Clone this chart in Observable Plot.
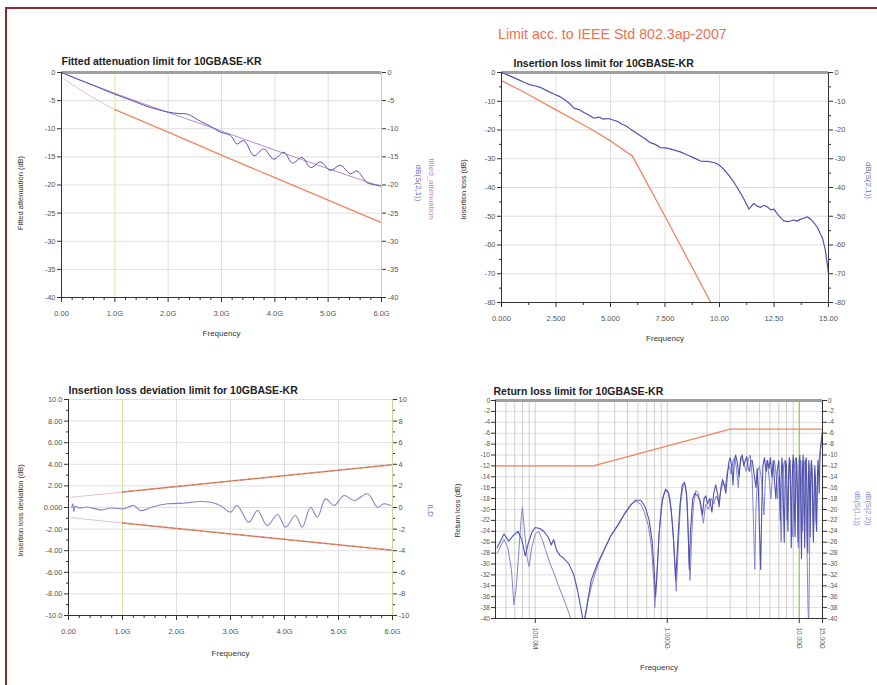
<!DOCTYPE html>
<html><head><meta charset="utf-8">
<script src="https://cdn.jsdelivr.net/npm/d3@7"></script>
<script src="https://cdn.jsdelivr.net/npm/@observablehq/plot@0.6"></script>
<style>
body{margin:0;background:#fff;font-family:"Liberation Sans",Arial,sans-serif}
#page{position:relative;width:877px;height:685px;overflow:hidden;background:#fff}
#frame{position:absolute;left:5px;top:7px;width:900px;height:700px;border-left:2px solid #8a2a2a;border-top:2px solid #8a2a2a}
#hdr{position:absolute;left:498px;top:26px;font-size:14.2px;color:#f0704f;white-space:nowrap}
.panel{position:absolute}
</style></head>
<body>
<div id="page">
  <div id="frame"></div>
  <div id="hdr">Limit acc. to IEEE Std 802.3ap-2007</div>
  <div class="panel" id="p1" style="left:0px;top:40px;width:440px;height:320px"></div>
  <div class="panel" id="p2" style="left:440px;top:40px;width:437px;height:320px"></div>
  <div class="panel" id="p3" style="left:0px;top:370px;width:440px;height:315px"></div>
  <div class="panel" id="p4" style="left:440px;top:370px;width:437px;height:315px"></div>
</div>
<script>
// ---------- Panel 1: Fitted attenuation ----------
const p1Title = "Fitted attenuation limit for 10GBASE-KR";
const p1XTicks = [0, 1, 2, 3, 4, 5, 6];
const p1XLabels = ["0.00", "1.0G", "2.0G", "3.0G", "4.0G", "5.0G", "6.0G"];
const p1YTicks = [0, -5, -10, -15, -20, -25, -30, -35, -40];
const p1YLabels = ["0", "-5", "-10", "-15", "-20", "-25", "-30", "-35", "-40"];
const p1LimitLowF = [0.05, 0.5, 1.0];
const p1LimitLowV = [-1.2, -4.0, -6.6];
const p1LimitF = [1.0, 2.0, 3.0, 4.0, 5.0, 6.0];
const p1LimitV = [-6.6, -10.6, -14.7, -18.7, -22.7, -26.7];
const p1MeasF = [0, 0.3, 0.6, 0.98, 1.3, 1.6, 1.98, 2.2, 2.36, 2.61, 2.8, 2.98, 3.17, 3.29, 3.42, 3.61, 3.79, 3.98, 4.17, 4.33, 4.51, 4.67, 4.86, 5.04, 5.23, 5.42, 5.54, 5.73, 5.85, 5.98];
const p1MeasV = [0, -1.2, -2.3, -3.8, -4.9, -6.0, -7.0, -7.3, -7.4, -8.7, -9.6, -10.6, -11.2, -12.7, -12.1, -14.8, -13.6, -15.4, -14.2, -16.1, -15.1, -16.9, -15.9, -17.4, -16.5, -18.0, -17.5, -19.6, -19.9, -20.1];
const p1FitF = [0, 1, 2, 3, 4, 5, 6];
const p1FitV = [0, -3.7, -7.1, -10.4, -13.8, -17.1, -20.3];

// ---------- Panel 2: Insertion loss ----------
const p2Title = "Insertion loss limit for 10GBASE-KR";
const p2XTicks = [0, 2.5, 5, 7.5, 10, 12.5, 15];
const p2XLabels = ["0.000", "2.500", "5.000", "7.500", "10.00", "12.50", "15.00"];
const p2YTicks = [0, -10, -20, -30, -40, -50, -60, -70, -80];
const p2YLabels = ["0", "-10", "-20", "-30", "-40", "-50", "-60", "-70", "-80"];
const p2LimitF = [0.05, 1, 2.5, 4, 5, 6, 7.5, 9.6];
const p2LimitV = [-3.0, -6.7, -13.0, -19.2, -23.8, -29.0, -50.0, -80.0];
const p2MeasF = [0, 0.35, 0.72, 1.05, 1.33, 1.55, 1.79, 2.1, 2.4, 2.65, 2.86, 3.1, 3.32, 3.55, 3.78, 4.0, 4.24, 4.45, 4.69, 4.9, 5.15, 5.35, 5.53, 5.72, 5.92, 6.15, 6.37, 6.6, 6.83, 7.05, 7.29, 7.6, 7.9, 8.2, 8.52, 8.8, 9.13, 9.45, 9.74, 9.95, 10.12, 10.3, 10.5, 10.65, 10.81, 10.95, 11.12, 11.25, 11.35, 11.45, 11.58, 11.7, 11.88, 12.05, 12.19, 12.35, 12.5, 12.65, 12.8, 12.95, 13.15, 13.41, 13.55, 13.72, 13.9, 14.02, 14.18, 14.33, 14.5, 14.63, 14.72, 14.79, 14.85, 14.91, 14.96, 15.0];
const p2MeasV = [0, -1.1, -2.3, -3.5, -4.3, -4.7, -5.2, -6.4, -7.5, -8.3, -9.3, -10.6, -12.4, -12.9, -13.9, -14.8, -15.9, -15.5, -16.2, -16.0, -16.6, -17.1, -18.0, -18.6, -19.7, -20.9, -22.0, -23.1, -24.4, -25.0, -26.1, -26.3, -26.9, -27.6, -28.7, -29.6, -30.8, -30.9, -31.3, -32.0, -33.1, -34.6, -36.5, -38.0, -40.0, -41.8, -44.0, -46.0, -47.5, -46.6, -45.5, -46.4, -46.9, -46.2, -46.7, -47.8, -47.5, -49.2, -50.5, -51.6, -51.9, -51.3, -51.7, -51.0, -50.6, -50.2, -51.0, -52.2, -54.0, -56.2, -57.5, -59.7, -61.5, -64.9, -67.5, -70.0];

// ---------- Panel 3: Insertion loss deviation ----------
const p3Title = "Insertion loss deviation limit for 10GBASE-KR";
const p3XTicks = [0, 1, 2, 3, 4, 5, 6];
const p3XLabels = ["0.00", "1.0G", "2.0G", "3.0G", "4.0G", "5.0G", "6.0G"];
const p3YTicks = [10, 8, 6, 4, 2, 0, -2, -4, -6, -8, -10];
const p3YLabelsL = ["10.0", "8.00", "6.00", "4.00", "2.00", "0.000", "-2.00", "-4.00", "-6.00", "-8.00", "-10.0"];
const p3YLabelsR = ["10", "8", "6", "4", "2", "0", "-2", "-4", "-6", "-8", "-10"];
const p3UpLowF = [0.05, 1.0];
const p3UpLowV = [0.95, 1.43];
const p3UpF = [1.0, 6.0];
const p3UpV = [1.43, 3.96];
const p3DnLowF = [0.05, 1.0];
const p3DnLowV = [-0.95, -1.43];
const p3DnF = [1.0, 6.0];
const p3DnV = [-1.43, -3.96];
const p3MeasF = [0.06, 0.08, 0.1, 0.12, 0.2, 0.35, 0.59, 0.8, 1.02, 1.21, 1.33, 1.58, 1.83, 2.13, 2.44, 2.63, 2.81, 3.0, 3.12, 3.34, 3.5, 3.68, 3.87, 4.02, 4.2, 4.33, 4.48, 4.61, 4.76, 4.92, 5.1, 5.29, 5.54, 5.72, 5.84, 5.97];
const p3MeasV = [0.03, 0.35, -0.4, 0.1, -0.05, 0.05, -0.22, -0.05, -0.12, 0.19, -0.28, 0.09, 0.34, 0.4, 0.56, 0.49, 0.19, -0.43, 0.19, -1.36, -0.28, -1.67, -0.65, -1.82, -0.74, -1.82, 0.03, -0.9, 0.8, 0.19, 1.11, 0.65, 1.27, 0.03, 0.34, 0.19];

// ---------- Panel 4: Return loss ----------
const p4Title = "Return loss limit for 10GBASE-KR";
const p4XTicks = [0.1, 1, 10, 15];
const p4XLabels = ["100.0M", "1.000G", "10.00G", "15.00G"];
const p4XGrid = [0.06, 0.07, 0.08, 0.09, 0.1, 0.2, 0.3, 0.4, 0.5, 0.6, 0.7, 0.8, 0.9, 1, 2, 3, 4, 5, 6, 7, 8, 9, 10];
const p4YTicks = [0, -2, -4, -6, -8, -10, -12, -14, -16, -18, -20, -22, -24, -26, -28, -30, -32, -34, -36, -38, -40];
const p4YLabels = ["0", "-2", "-4", "-6", "-8", "-10", "-12", "-14", "-16", "-18", "-20", "-22", "-24", "-26", "-28", "-30", "-32", "-34", "-36", "-38", "-40"];
const p4LimitF = [0.05, 0.275, 3.0, 15.0];
const p4LimitV = [-12, -12, -5.25, -5.25];
const p4S11F = [0.0515, 0.058, 0.063, 0.068, 0.074, 0.079, 0.084, 0.089, 0.095, 0.1, 0.108, 0.116, 0.125, 0.132, 0.138, 0.145, 0.155, 0.165, 0.18, 0.196, 0.21, 0.225, 0.233, 0.245, 0.265, 0.295, 0.33, 0.37, 0.42, 0.47, 0.52, 0.57, 0.63, 0.68, 0.73, 0.77, 0.8, 0.815, 0.84, 0.87, 0.92, 0.97, 1.02, 1.07, 1.12, 1.16, 1.2, 1.25, 1.3, 1.35, 1.4, 1.44, 1.47, 1.5, 1.56, 1.62, 1.7, 1.78, 1.85, 1.9, 1.96, 2.02, 2.1, 2.18, 2.25, 2.33, 2.4, 2.47, 2.55, 2.62, 2.7, 2.78, 2.85, 2.92, 3.0, 3.08, 3.15, 3.22, 3.3, 3.4, 3.5, 3.6, 3.7, 3.8, 3.9, 4.0, 4.1, 4.2, 4.3, 4.4, 4.55, 4.7, 4.8, 4.9, 5.0, 5.1, 5.2, 5.3, 5.45, 5.6, 5.75, 5.9, 6.05, 6.2, 6.35, 6.5, 6.65, 6.8, 6.9,
  7.0, 7.1, 7.2, 7.3, 7.4, 7.5, 7.6, 7.7, 7.8, 7.9, 8.0, 8.1, 8.2, 8.3, 8.4, 8.5, 8.6, 8.7, 8.8, 8.9, 9.0, 9.1, 9.2, 9.3, 9.4, 9.5, 9.6, 9.7, 9.8, 9.9, 10.0, 10.1, 10.2, 10.3, 10.4, 10.5, 10.6, 10.7, 10.8, 10.9, 11.0, 11.1, 11.2, 11.3, 11.4, 11.5, 11.6, 11.7, 11.8, 11.9, 12.0, 12.1, 12.2, 12.35, 12.5, 12.65, 12.8, 12.95, 13.1, 13.25, 13.4, 13.55, 13.7, 13.85, 14.0, 14.15, 14.3, 14.45, 14.6, 14.75, 14.9, 15.0];
const p4S11V = [-27, -24.5, -25.8, -24.8, -24, -25.5, -28.5, -26, -24, -23.3, -23.5, -24, -25, -26.5, -25.5, -27.5, -28.5, -29, -30, -32, -35, -39, -41, -38, -33, -30, -27.5, -25, -23, -21, -19.5, -18.3, -18.3, -19.5, -22, -26, -32, -36, -31, -24, -18, -16.3, -16.8, -20, -26, -33, -26, -19, -15.5, -15, -17, -24, -31, -24, -18, -17, -17.5, -18.5, -21, -18, -17.5, -19, -18, -20.5, -17, -15.5, -17, -19.5, -16, -14.5, -15.5, -17, -14, -11.5, -10.5, -12, -15.5, -11, -10, -11.5, -14, -10.5, -10, -12, -11, -10.3, -12.5, -13, -11, -11, -13.5, -16, -12.5, -16, -24, -31, -20, -12, -10.5, -13, -11, -12.5, -10.5, -14, -11, -15, -18, -13, -12,
  -11, -15, -22, -14, -10.5, -13, -20, -26, -16, -11, -12, -18, -24, -15, -10.5, -11, -17, -27, -19, -12, -10, -13, -21, -25, -15, -10.5, -12, -19, -26, -17, -11, -10, -14, -23, -29, -20, -12, -10, -13, -21, -27, -18, -11, -10.5, -15, -24, -28, -17, -11, -12, -19, -25, -16, -11, -13, -21, -26, -17, -12, -14, -22, -24, -15, -11, -13, -17, -12, -9, -8, -7, -6, -5.5];
const p4S22F = [0.0515, 0.058, 0.062, 0.066, 0.069, 0.072, 0.075, 0.078, 0.08, 0.083, 0.087, 0.09, 0.094, 0.1, 0.106, 0.113, 0.12, 0.13, 0.14, 0.15, 0.165, 0.18, 0.19, 0.2, 0.235, 0.25, 0.27, 0.3, 0.34, 0.38, 0.43, 0.48, 0.53, 0.58, 0.63, 0.67, 0.72, 0.76, 0.79, 0.805, 0.83, 0.86, 0.9, 0.95, 1.0, 1.05, 1.1, 1.14, 1.17, 1.21, 1.26, 1.32, 1.37, 1.42, 1.46, 1.49, 1.53, 1.58, 1.65, 1.72, 1.8, 1.88, 1.95, 2.05, 2.15, 2.25, 2.35, 2.45, 2.55, 2.65, 2.75, 2.85, 2.95, 3.05, 3.15, 3.25, 3.35, 3.45, 3.55, 3.65, 3.8, 3.95, 4.1, 4.25, 4.4, 4.5, 4.6, 4.7, 4.85, 5.0, 5.2, 5.4, 5.55, 5.7, 5.9, 6.1, 6.3, 6.5, 6.7, 6.85,
  7.0, 7.15, 7.3, 7.45, 7.6, 7.75, 7.9, 8.05, 8.2, 8.35, 8.5, 8.65, 8.8, 8.95, 9.1, 9.25, 9.4, 9.55, 9.7, 9.85, 10.0, 10.15, 10.3, 10.45, 10.6, 10.75, 10.9, 11.05, 11.2, 11.35, 11.5, 11.65, 11.8, 11.95, 12.1, 12.25, 12.4, 12.55, 12.7, 12.85, 13.0, 13.15, 13.3, 13.45, 13.6, 13.75, 13.9, 14.1, 14.3, 14.5, 14.7, 14.85, 15.0];
const p4S22V = [-28, -25.5, -27, -31, -37.5, -34, -28, -22, -19.5, -24, -29, -30.5, -27, -24.5, -24, -25.5, -27.5, -30, -32, -34, -36.5, -39, -41, -43, -41, -37, -33.5, -30, -27, -24.5, -22.5, -20.5, -19, -18.5, -19, -20.5, -23, -27, -33, -38, -33, -26, -19.5, -17, -16.5, -18, -23, -30, -35, -27, -19, -15.5, -15.5, -19, -29, -33, -25, -19, -16.5, -17, -20, -22.5, -19, -20, -18, -19, -17.5, -18.5, -16.5, -15, -16, -13, -12, -13.5, -11, -10.5, -12.5, -16, -12, -10.5, -11.5, -13, -11, -10, -14, -22, -31, -20, -13, -12, -15, -21, -14, -11, -14, -18, -13, -11, -14, -18,
  -14, -20, -26, -17, -12, -11, -14, -22, -18, -12, -11, -15, -23, -25, -16, -11, -10.5, -13, -20, -27, -18, -12, -11, -16, -24, -19, -12, -11, -15, -22, -30, -38, -42, -30, -19, -13, -11, -14, -20, -24, -18, -14, -16, -22, -19, -14, -12, -11, -10, -9, -8, -7, -6.5];

// ---------- styling ----------
const FONT = "Liberation Sans, Arial, sans-serif";
const ORANGE = "#f3845f";
const PINK = "#ecbcd6";
const BLUE = "#5252b0";
const BLUE2 = "#8484d0";
const PURPLE = "#bf86cf";
const GRID = "#d6d6d6";
const AXIS = "#333";
const TICKTXT = "#555";
const VLINE = "#d8e4a8";

const zip = (f, v) => f.map((x, i) => ({f: x, v: v[i]}));
const fmt = (ticks, labels) => { const m = new Map(ticks.map((t, i) => [t, labels[i]])); return d => m.get(d) ?? ""; };

function texts(list) {
  return list.map(t => Plot.text([t.s], {
    frameAnchor: t.anchor, dx: t.dx || 0, dy: t.dy || 0, text: d => d,
    rotate: t.rotate || 0, textAnchor: t.ta || "middle", lineAnchor: "middle",
    fontSize: t.size || 8, fontWeight: t.bold ? "bold" : "normal", fill: t.fill || "#333"
  }));
}

function base(o) {
  return {
    width: o.w, height: o.h,
    marginLeft: o.ml, marginRight: o.mr, marginTop: o.mt, marginBottom: o.mb,
    x: {domain: o.xd, type: o.xtype || "linear", axis: null},
    y: {domain: o.yd, axis: null},
    style: {fontFamily: FONT, fontSize: "7.5px", background: "transparent", overflow: "visible", color: AXIS}
  };
}

// ---- Panel 1 ----
{
  const o = base({w: 440, h: 320, ml: 61, mr: 59, mt: 32, mb: 63, xd: [0, 6], yd: [-40, 0]});
  o.marks = [
    Plot.ruleY(p1YTicks, {stroke: GRID, strokeWidth: 0.8}),
    Plot.ruleX([2, 3, 4, 5], {stroke: GRID, strokeWidth: 0.8}),
    Plot.ruleX([1], {stroke: VLINE, strokeWidth: 1}),
    Plot.ruleY([0], {stroke: "#a0a0a0", strokeWidth: 3}),
    Plot.line(zip(p1LimitLowF, p1LimitLowV), {x: "f", y: "v", stroke: PINK, strokeWidth: 1}),
    Plot.line(zip(p1LimitF, p1LimitV), {x: "f", y: "v", stroke: ORANGE, strokeWidth: 1.3}),
    Plot.line(zip(p1FitF, p1FitV), {x: "f", y: "v", stroke: PURPLE, strokeWidth: 1, curve: "monotone-x"}),
    Plot.line(zip(p1MeasF, p1MeasV), {x: "f", y: "v", stroke: BLUE, strokeWidth: 1, curve: "catmull-rom"}),
    Plot.ruleX([0], {stroke: AXIS}),
    Plot.ruleX([6], {stroke: "#c8d890"}),
    Plot.ruleY([-40], {stroke: AXIS}),
    Plot.axisY(p1YTicks, {anchor: "left", tickSize: 4, tickPadding: 2, tickFormat: fmt(p1YTicks, p1YLabels), label: null, fill: TICKTXT}),
    Plot.axisY(p1YTicks, {anchor: "right", tickSize: 4, tickPadding: 2, tickFormat: fmt(p1YTicks, p1YLabels), label: null, fill: TICKTXT}),
    Plot.axisX(p1XTicks, {anchor: "bottom", tickSize: 5, tickPadding: 8, tickFormat: fmt(p1XTicks, p1XLabels), label: null, fill: TICKTXT}),
    Plot.axisX([0.2,0.4,0.6,0.8,1.2,1.4,1.6,1.8,2.2,2.4,2.6,2.8,3.2,3.4,3.6,3.8,4.2,4.4,4.6,4.8,5.2,5.4,5.6,5.8], {anchor: "bottom", tickSize: 3, tickFormat: () => "", label: null}),
    ...texts([
      {s: p1Title, anchor: "top-left", dx: 0, dy: -11, ta: "start", bold: true, size: 10.5, fill: "#222"},
      {s: "Fitted attenuation (dB)", anchor: "left", dx: -41, dy: 8, rotate: -90, size: 7.5},
      {s: "Frequency", anchor: "bottom", dy: 36, size: 8},
      {s: "dB(S(2,1))", anchor: "right", dx: 37, dy: -2, rotate: 90, size: 8, fill: "#7070c8"},
      {s: "fitted_attenuation", anchor: "right", dx: 50, dy: 4, rotate: 90, size: 8, fill: "#c486c8"}
    ])
  ];
  document.getElementById("p1").append(Plot.plot(o));
}

// ---- Panel 2 ----
{
  const o = base({w: 437, h: 320, ml: 61, mr: 49, mt: 32, mb: 58, xd: [0, 15], yd: [-80, 0]});
  o.marks = [
    Plot.ruleY(p2YTicks, {stroke: GRID, strokeWidth: 0.8}),
    Plot.ruleX([2.5, 5, 7.5, 10, 12.5], {stroke: GRID, strokeWidth: 0.8}),
    Plot.ruleY([0], {stroke: "#a0a0a0", strokeWidth: 3}),
    Plot.line(zip(p2LimitF, p2LimitV), {x: "f", y: "v", stroke: ORANGE, strokeWidth: 1.3, clip: true}),
    Plot.line(zip(p2MeasF, p2MeasV), {x: "f", y: "v", stroke: BLUE, strokeWidth: 1.2}),
    Plot.ruleX([0], {stroke: AXIS}),
    Plot.ruleX([15], {stroke: AXIS}),
    Plot.ruleY([-80], {stroke: AXIS}),
    Plot.axisY(p2YTicks, {anchor: "left", tickSize: 4, tickPadding: 2, tickFormat: fmt(p2YTicks, p2YLabels), label: null, fill: TICKTXT}),
    Plot.axisY([-5,-15,-25,-35,-45,-55,-65,-75], {anchor: "left", tickSize: 2, tickFormat: () => "", label: null}),
    Plot.axisY(p2YTicks, {anchor: "right", tickSize: 4, tickPadding: 2, tickFormat: fmt(p2YTicks, p2YLabels), label: null, fill: TICKTXT}),
    Plot.axisY([-5,-15,-25,-35,-45,-55,-65,-75], {anchor: "right", tickSize: 2, tickFormat: () => "", label: null}),
    Plot.axisX(p2XTicks, {anchor: "bottom", tickSize: 5, tickPadding: 8, tickFormat: fmt(p2XTicks, p2XLabels), label: null, fill: TICKTXT}),
    Plot.axisX([1.25, 3.75, 6.25, 8.75, 11.25, 13.75], {anchor: "bottom", tickSize: 3, tickFormat: () => "", label: null}),
    ...texts([
      {s: p2Title, anchor: "top-left", dx: 12, dy: -9, ta: "start", bold: true, size: 10.5, fill: "#222"},
      {s: "Insertion loss (dB)", anchor: "left", dx: -38, dy: 2, rotate: -90, size: 7.5},
      {s: "Frequency", anchor: "bottom", dy: 36, size: 8},
      {s: "dB(S(2,1))", anchor: "right", dx: 40, dy: -7, rotate: 90, size: 8, fill: "#7070c8"}
    ])
  ];
  document.getElementById("p2").append(Plot.plot(o));
}

// ---- Panel 3 ----
{
  const o = base({w: 440, h: 315, ml: 68, mr: 48, mt: 29, mb: 70, xd: [0, 6], yd: [-10, 10]});
  o.marks = [
    Plot.ruleY(p3YTicks, {stroke: GRID, strokeWidth: 0.8}),
    Plot.ruleX([2, 3, 4, 5], {stroke: GRID, strokeWidth: 0.8}),
    Plot.ruleX([1], {stroke: VLINE, strokeWidth: 1}),
    Plot.line(zip(p3UpLowF, p3UpLowV), {x: "f", y: "v", stroke: PINK, strokeWidth: 1}),
    Plot.line(zip(p3DnLowF, p3DnLowV), {x: "f", y: "v", stroke: PINK, strokeWidth: 1}),
    Plot.line(zip(p3UpF, p3UpV), {x: "f", y: "v", stroke: ORANGE, strokeWidth: 1.4}),
    Plot.line(zip(p3DnF, p3DnV), {x: "f", y: "v", stroke: ORANGE, strokeWidth: 1.4}),
    Plot.line(zip(p3UpF, p3UpV), {x: "f", y: "v", stroke: "#777", strokeWidth: 0.6, strokeDasharray: "3,4"}),
    Plot.line(zip(p3DnF, p3DnV), {x: "f", y: "v", stroke: "#777", strokeWidth: 0.6, strokeDasharray: "3,4"}),
    Plot.line(zip(p3MeasF, p3MeasV), {x: "f", y: "v", stroke: BLUE2, strokeWidth: 1.1, curve: "catmull-rom"}),
    Plot.ruleX([0], {stroke: AXIS}),
    Plot.ruleX([6], {stroke: "#c8d890"}),
    Plot.ruleY([-10], {stroke: AXIS}),
    Plot.axisY(p3YTicks, {anchor: "left", tickSize: 4, tickPadding: 2, tickFormat: fmt(p3YTicks, p3YLabelsL), label: null, fill: TICKTXT}),
    Plot.axisY([9,7,5,3,1,-1,-3,-5,-7,-9], {anchor: "left", tickSize: 2, tickFormat: () => "", label: null}),
    Plot.axisY(p3YTicks, {anchor: "right", tickSize: 4, tickPadding: 2, tickFormat: fmt(p3YTicks, p3YLabelsR), label: null, fill: TICKTXT}),
    Plot.axisY([9,7,5,3,1,-1,-3,-5,-7,-9], {anchor: "right", tickSize: 2, tickFormat: () => "", label: null}),
    Plot.axisX(p3XTicks, {anchor: "bottom", tickSize: 5, tickPadding: 8, tickFormat: fmt(p3XTicks, p3XLabels), label: null, fill: TICKTXT}),
    Plot.axisX([0.2,0.4,0.6,0.8,1.2,1.4,1.6,1.8,2.2,2.4,2.6,2.8,3.2,3.4,3.6,3.8,4.2,4.4,4.6,4.8,5.2,5.4,5.6,5.8], {anchor: "bottom", tickSize: 3, tickFormat: () => "", label: null}),
    ...texts([
      {s: p3Title, anchor: "top-left", dx: 0, dy: -9, ta: "start", bold: true, size: 10.5, fill: "#222"},
      {s: "Insertion loss deviation (dB)", anchor: "left", dx: -48, dy: 3, rotate: -90, size: 7.5},
      {s: "Frequency", anchor: "bottom", dy: 38, size: 8},
      {s: "ILD", anchor: "right", dx: 38, dy: 3, rotate: 90, size: 8, fill: "#7070c8"}
    ])
  ];
  document.getElementById("p3").append(Plot.plot(o));
}

// ---- Panel 4 ----
{
  const o = base({w: 437, h: 315, ml: 55, mr: 55, mt: 30, mb: 67, xd: [0.05, 15], xtype: "log", yd: [-40, 0]});
  o.marks = [
    Plot.ruleY(p4YTicks, {stroke: GRID, strokeWidth: 0.8}),
    Plot.ruleX(p4XGrid, {stroke: "#c4c4c4", strokeWidth: 0.8}),
    Plot.ruleX([10], {stroke: "#7fd040", strokeWidth: 1}),
    Plot.ruleY([0], {stroke: "#a0a0a0", strokeWidth: 3}),
    Plot.line(zip(p4LimitF, p4LimitV), {x: "f", y: "v", stroke: ORANGE, strokeWidth: 1.3}),
    Plot.line(zip(p4S22F, p4S22V), {x: "f", y: "v", stroke: BLUE2, strokeWidth: 1, clip: true}),
    Plot.line(zip(p4S11F, p4S11V), {x: "f", y: "v", stroke: BLUE, strokeWidth: 1.1, clip: true}),
    Plot.ruleX([0.05], {stroke: AXIS}),
    Plot.ruleX([15], {stroke: AXIS}),
    Plot.ruleY([-40], {stroke: AXIS}),
    Plot.axisY(p4YTicks, {anchor: "left", tickSize: 4, tickPadding: 1.5, tickFormat: fmt(p4YTicks, p4YLabels), label: null, fill: TICKTXT, fontSize: 6.5}),
    Plot.axisY(p4YTicks, {anchor: "right", tickSize: 4, tickPadding: 1.5, tickFormat: fmt(p4YTicks, p4YLabels), label: null, fill: TICKTXT, fontSize: 6.5}),
    Plot.axisX(p4XTicks, {anchor: "bottom", tickSize: 5, tickPadding: 4, tickRotate: 90, tickFormat: fmt(p4XTicks, p4XLabels), label: null, fill: TICKTXT, fontSize: 6.5}),
    ...texts([
      {s: p4Title, anchor: "top-left", dx: -2, dy: -9, ta: "start", bold: true, size: 10.5, fill: "#222"},
      {s: "Return loss (dB)", anchor: "left", dx: -38, dy: 1, rotate: -90, size: 7.5},
      {s: "Frequency", anchor: "bottom", dy: 49, size: 8},
      {s: "dB(S(1,1))", anchor: "right", dx: 35, dy: -1, rotate: 90, size: 7.5, fill: "#8c8cd4"},
      {s: "dB(S(2,2))", anchor: "right", dx: 46, dy: -1, rotate: 90, size: 7.5, fill: "#8c8cd4"}
    ])
  ];
  document.getElementById("p4").append(Plot.plot(o));
}
</script>
</body></html>
